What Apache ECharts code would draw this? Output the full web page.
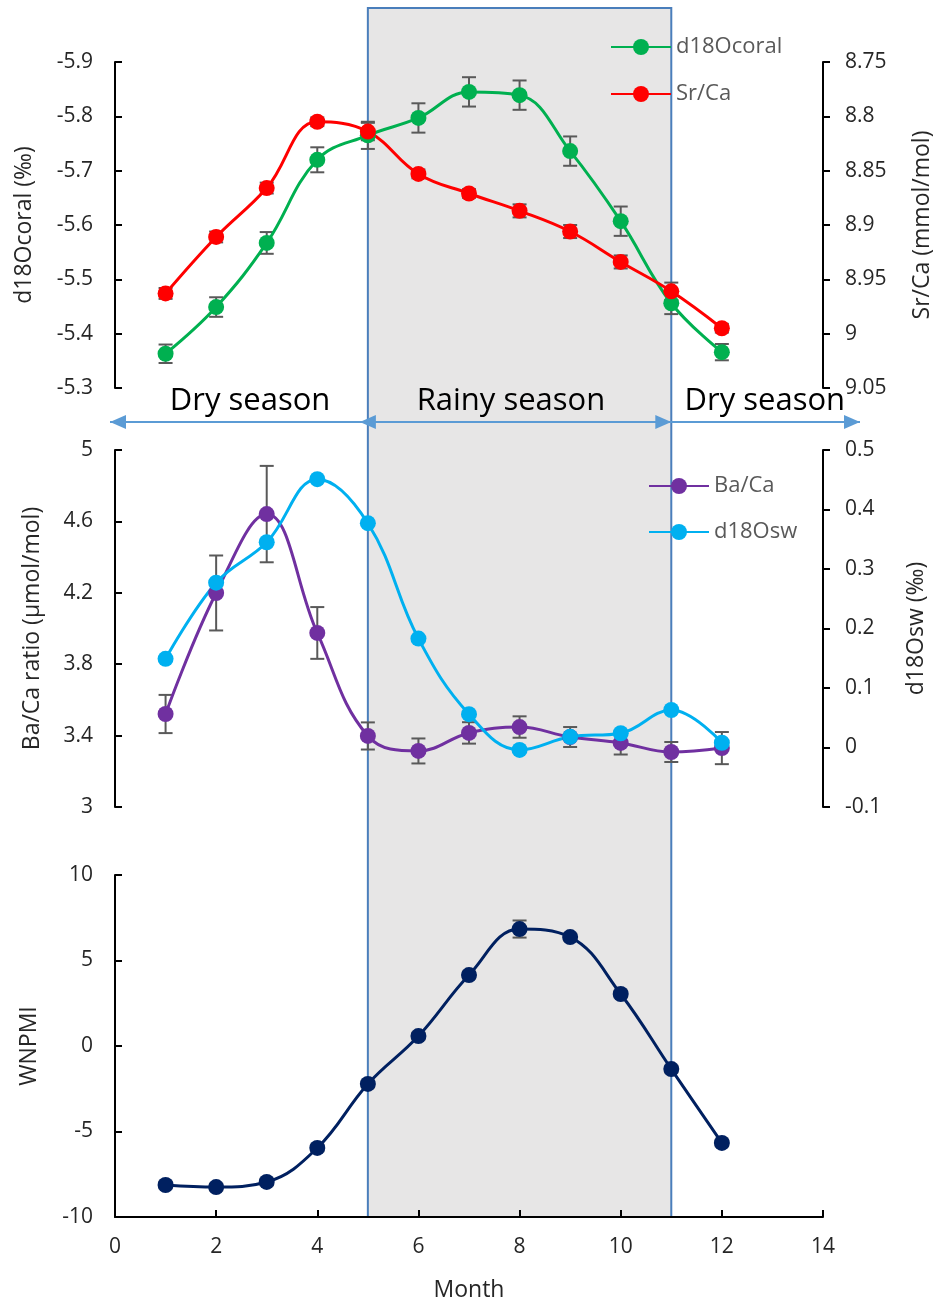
<!DOCTYPE html>
<html>
<head>
<meta charset="utf-8">
<script src="https://cdn.jsdelivr.net/npm/echarts@6/dist/echarts.min.js"></script>
<style>
  html, body { margin: 0; padding: 0; background: #fff; }
  #chart { width: 940px; height: 1299px; }
</style>
</head>
<body>
<div id="chart"></div>
<script>
// values, one per month
const months = [1, 2, 3, 4, 5, 6, 7, 8, 9, 10, 11, 12];

const d18Ocoral = [-5.363, -5.449, -5.567, -5.72, -5.765, -5.797, -5.845, -5.839, -5.736, -5.607, -5.456, -5.366];
const d18OcoralErr = [0.017, 0.018, 0.02, 0.023, 0.025, 0.027, 0.027, 0.027, 0.027, 0.027, 0.02, 0.015];

const srCa = [8.963, 8.911, 8.866, 8.805, 8.814, 8.853, 8.871, 8.887, 8.906, 8.934, 8.961, 8.995];
const srCaErr = [0.005, 0.005, 0.005, 0.004, 0.008, 0.004, 0.004, 0.006, 0.006, 0.006, 0.008, 0.004];

const baCa = [3.521, 4.199, 4.641, 3.975, 3.398, 3.314, 3.415, 3.448, 3.392, 3.359, 3.308, 3.33];
const baCaErr = [0.107, 0.21, 0.27, 0.145, 0.076, 0.07, 0.06, 0.06, 0.056, 0.065, 0.056, 0.09];

const d18Osw = [0.149, 0.277, 0.345, 0.451, 0.377, 0.183, 0.056, -0.004, 0.018, 0.024, 0.063, 0.008];

const wnpmi = [-8.13, -8.25, -7.95, -5.96, -2.22, 0.58, 4.15, 6.84, 6.37, 3.04, -1.35, -5.67];
const wnpmiErr = [0.2, 0.2, 0.2, 0.2, 0.2, 0.2, 0.2, 0.5, 0.2, 0.2, 0.2, 0.2];

const baCaTicks = [3, 3.4, 3.8, 4.2, 4.6, 5];
const rainyStart = 5;
const rainyEnd = 11;

const FONT = "Open Sans";
const TXT = "#262626";

const chart = echarts.init(document.getElementById("chart"));

const pairs = (vals) => months.map((m, i) => [m, vals[i]]);
const triples = (vals, errs) => months.map((m, i) => [m, vals[i], errs[i]]);

const renderErr = (params, api) => {
  const x = api.value(0);
  const y = api.value(1);
  const e = api.value(2);
  const lo = api.coord([x, y - e]);
  const hi = api.coord([x, y + e]);
  const cw = 7;
  const style = { stroke: "#595959", lineWidth: 2 };
  return {
    type: "group",
    children: [
      { type: "line", shape: { x1: lo[0], y1: lo[1], x2: hi[0], y2: hi[1] }, style },
      { type: "line", shape: { x1: lo[0] - cw, y1: lo[1], x2: lo[0] + cw, y2: lo[1] }, style },
      { type: "line", shape: { x1: hi[0] - cw, y1: hi[1], x2: hi[0] + cw, y2: hi[1] }, style },
    ],
  };
};

const lineSeries = (name, vals, color, xi, yi) => ({
  name,
  type: "line",
  xAxisIndex: xi,
  yAxisIndex: yi,
  data: pairs(vals),
  smooth: 0.4,
  symbol: "circle",
  symbolSize: 16,
  itemStyle: { color },
  lineStyle: { color, width: 3 },
  emphasis: { disabled: true },
  z: 3,
});

const errSeries = (vals, errs, xi, yi) => ({
  type: "custom",
  xAxisIndex: xi,
  yAxisIndex: yi,
  data: triples(vals, errs),
  encode: { x: 0, y: 1 },
  renderItem: renderErr,
  silent: true,
  z: 2,
});

const axisLine = { show: true, onZero: false, lineStyle: { color: "#000", width: 2 } };
const axisLabel = { color: TXT, fontSize: 21, fontFamily: FONT, margin: 22 };
const nameStyle = { color: TXT, fontSize: 23, fontFamily: FONT };
const tickIn = { show: true, inside: true, length: 7, lineStyle: { color: "#000", width: 2 } };
const tickOut = { show: true, inside: false, length: 7, lineStyle: { color: "#000", width: 2 } };

const yAxis = (opts) => Object.assign({
  type: "value",
  nameLocation: "middle",
  nameTextStyle: nameStyle,
  axisLine,
  axisTick: tickIn,
  axisLabel,
  splitLine: { show: false },
}, opts);

const hiddenX = (gi) => ({ type: "value", gridIndex: gi, min: 0, max: 14, interval: 2, show: false });

const legendText = { color: "#595959", fontSize: 22, fontFamily: FONT, lineHeight: 22 };

const option = {
  animation: false,
  textStyle: { fontFamily: FONT },
  grid: [
    { left: 115, right: 117, top: 62, height: 326, outerBoundsMode: "none" },
    { left: 115, right: 117, top: 450, height: 357, outerBoundsMode: "none" },
    { left: 115, right: 117, top: 875, height: 342, outerBoundsMode: "none" },
  ],
  legend: [
    {
      orient: "vertical", left: 605, top: 31, itemWidth: 60, itemHeight: 20, itemGap: 25,
      data: ["d18Ocoral", "Sr/Ca"],
      textStyle: legendText,
    },
    {
      orient: "vertical", left: 643, top: 470, itemWidth: 60, itemHeight: 20, itemGap: 24,
      data: ["Ba/Ca", "d18Osw"],
      textStyle: legendText,
    },
  ],
  xAxis: [
    hiddenX(0),
    hiddenX(1),
    {
      type: "value", gridIndex: 2, min: 0, max: 14, interval: 2,
      name: "Month", nameLocation: "middle", nameGap: 62, nameTextStyle: nameStyle,
      axisLine,
      axisTick: tickIn,
      axisLabel: Object.assign({}, axisLabel, { margin: 20 }),
      splitLine: { show: false },
    },
  ],
  yAxis: [
    yAxis({ gridIndex: 0, min: -5.9, max: -5.3, interval: 0.1, inverse: true, name: "d18Ocoral (‰)", nameGap: 79 }),
    yAxis({ gridIndex: 0, position: "right", min: 8.75, max: 9.05, interval: 0.05, inverse: true,
      name: "Sr/Ca (mmol/mol)", nameGap: 88, axisTick: tickOut }),
    yAxis({ gridIndex: 1, min: 3, max: 5, name: "Ba/Ca ratio (µmol/mol)", nameGap: 71,
      axisTick: Object.assign({}, tickIn, { customValues: baCaTicks }),
      axisLabel: Object.assign({}, axisLabel, { customValues: baCaTicks }) }),
    yAxis({ gridIndex: 1, position: "right", min: -0.1, max: 0.5, interval: 0.1, name: "d18Osw (‰)", nameGap: 82,
      axisTick: tickOut }),
    yAxis({ gridIndex: 2, min: -10, max: 10, interval: 5, name: "WNPMI", nameGap: 74 }),
  ],
  series: [
    lineSeries("d18Ocoral", d18Ocoral, "#00b050", 0, 0),
    errSeries(d18Ocoral, d18OcoralErr, 0, 0),
    lineSeries("Sr/Ca", srCa, "#ff0000", 0, 1),
    errSeries(srCa, srCaErr, 0, 1),
    lineSeries("Ba/Ca", baCa, "#7030a0", 1, 2),
    errSeries(baCa, baCaErr, 1, 2),
    lineSeries("d18Osw", d18Osw, "#00b0f0", 1, 3),
    errSeries(wnpmi, wnpmiErr, 2, 4),
    lineSeries("WNPMI", wnpmi, "#002060", 2, 4),
  ],
};

chart.setOption(option);

// rainy season shading, season arrows and labels, placed from the month axis
const px = (m) => chart.convertToPixel({ xAxisIndex: 2 }, m);
const yBottom = chart.convertToPixel({ yAxisIndex: 4 }, -10);
const x5 = px(rainyStart);
const x11 = px(rainyEnd);
const arrowY = 422;
const arrowColor = "#5b9bd5";
const head = (tipX, dir) => ({
  type: "polygon",
  z: 10,
  shape: { points: [[tipX, arrowY], [tipX - dir * 16, arrowY - 7], [tipX - dir * 16, arrowY + 7]] },
  style: { fill: arrowColor },
});
const seasonText = (m, text) => ({
  type: "text",
  z: 10,
  x: px(m),
  y: 401,
  style: { text, fill: "#000", font: "31px 'Open Sans'", align: "center", verticalAlign: "middle" },
});

chart.setOption({
  graphic: [
    {
      type: "rect", z: -10,
      shape: { x: x5, y: 8, width: x11 - x5, height: yBottom - 8 },
      style: { fill: "#e7e6e6", stroke: "#4a7ebb", lineWidth: 2 },
    },
    {
      type: "line", z: 10,
      shape: { x1: px(0) - 5, y1: arrowY, x2: px(14) + 37, y2: arrowY },
      style: { stroke: arrowColor, lineWidth: 2 },
    },
    head(px(0) - 5, -1),
    head(x5 - 8, -1),
    head(x11, 1),
    head(px(14) + 37, 1),
    seasonText(2.67, "Dry season"),
    seasonText(7.83, "Rainy season"),
    seasonText(12.85, "Dry season"),
  ],
});
</script>
</body>
</html>
